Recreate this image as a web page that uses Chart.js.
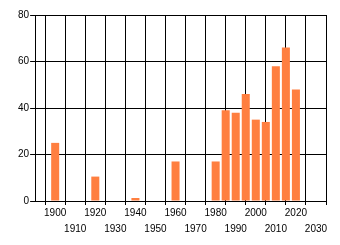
<!DOCTYPE html>
<html>
<head>
<meta charset="utf-8">
<script src="https://cdn.jsdelivr.net/npm/chart.js@4"></script>
<style>
  html, body { margin: 0; padding: 0; background: #fff; }
  #wrap { width: 340px; height: 245px; }
</style>
</head>
<body>
<div id="wrap"><canvas id="chart" width="340" height="245"></canvas></div>
<script>
const years = [1900, 1920, 1940, 1960, 1980, 1985, 1990, 1995, 2000, 2005, 2010, 2015, 2020];
const counts = [25, 10.5, 1.3, 17, 17, 39, 38, 46, 35, 34, 58, 66, 48];
const yTicks = [0, 20, 40, 60, 80];

document.addEventListener('DOMContentLoaded', function () {
  const ctx = document.getElementById('chart').getContext('2d');

  new Chart(ctx, {
    type: 'bar',
    data: {
      datasets: [{
        data: years.map((y, i) => ({ x: y, y: counts[i] })),
        backgroundColor: '#ff7f40',
        borderWidth: 0,
        barPercentage: 0.8,
        categoryPercentage: 1
      }]
    },
    options: {
      responsive: false,
      animation: false,
      layout: { padding: { top: 15, right: 14, left: 17, bottom: 8 } },
      plugins: { legend: { display: false }, tooltip: { enabled: false } },
      scales: {
        x: {
          type: 'linear',
          min: 1890,
          max: 2035,
          offset: false,
          grid: { color: '#000', lineWidth: 1, tickLength: 4 },
          border: { color: '#000' },
          ticks: {
            stepSize: 10,
            includeBounds: false,
            autoSkip: false,
            maxRotation: 0,
            padding: 0,
            color: '#000',
            font: { family: 'Liberation Sans', size: 10, lineHeight: 1.6 },
            callback: function (v) {
              if (v < 1900) return '';
              return (v / 10) % 2 === 0 ? String(v) : ['', String(v)];
            }
          }
        },
        y: {
          min: 0,
          max: 80,
          grid: { color: '#000', lineWidth: 1, tickLength: 5 },
          border: { color: '#000' },
          afterBuildTicks: function (axis) {
            axis.ticks = yTicks.map(v => ({ value: v }));
          },
          ticks: {
            padding: 1,
            color: '#000',
            font: { family: 'Liberation Sans', size: 10 }
          }
        }
      }
    }
  });
});
</script>
</body>
</html>
